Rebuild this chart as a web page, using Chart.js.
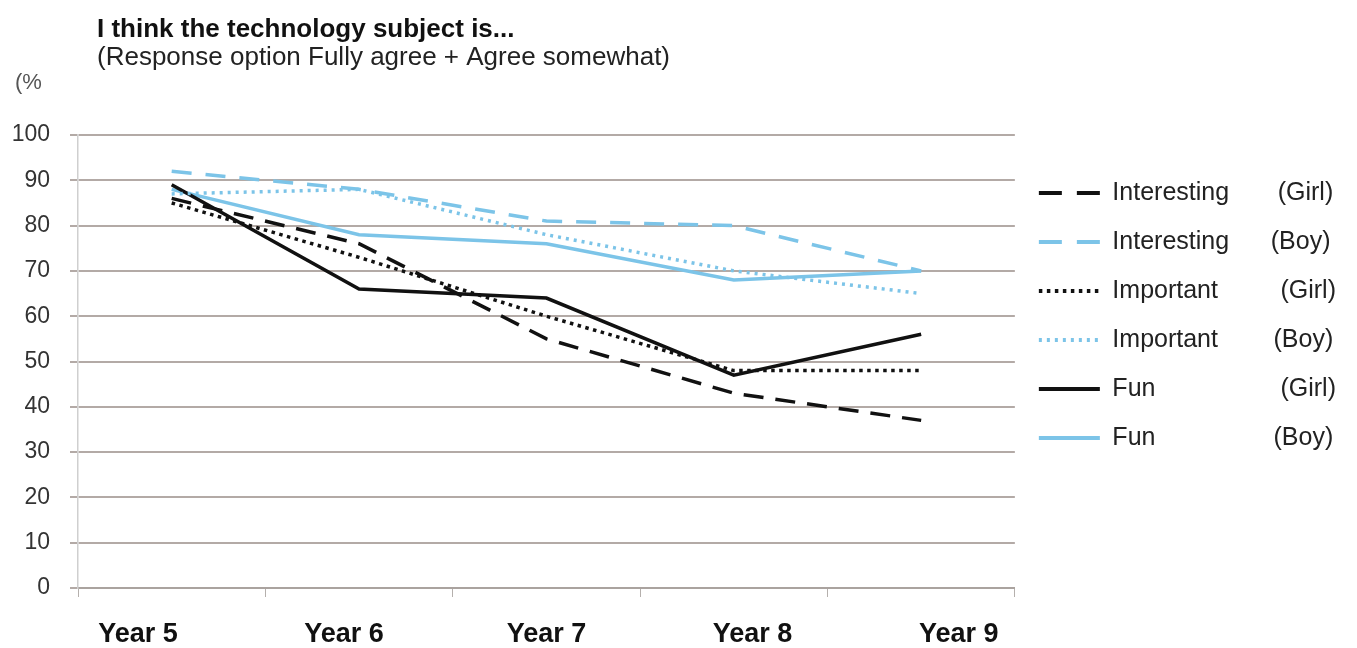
<!DOCTYPE html>
<html>
<head>
<meta charset="utf-8">
<script src="https://cdn.jsdelivr.net/npm/chart.js"></script>
<style>
  html, body { margin: 0; padding: 0; background: #fff; }
  #wrap { width: 1357px; height: 648px; }
</style>
</head>
<body>
<div id="wrap"><canvas id="techChart"></canvas></div>
<script>
// Data
const years = ["Year 5", "Year 6", "Year 7", "Year 8", "Year 9"];
const yTicks = [0, 10, 20, 30, 40, 50, 60, 70, 80, 90, 100];

const interestingGirl = [86, 76, 55, 43, 37];
const interestingBoy = [92, 88, 81, 80, 70];
const importantGirl = [85, 73, 60, 48, 48];
const importantBoy = [87, 88, 78, 70, 65];
const funGirl = [89, 66, 64, 47, 56];
const funBoy = [88, 78, 76, 68, 70];

const seriesNames = [
  "Interesting       (Girl)",
  "Interesting      (Boy)",
  "Important         (Girl)",
  "Important        (Boy)",
  "Fun                  (Girl)",
  "Fun                 (Boy)"
];

const titleText = "I think the technology subject is...";
const subtitleText = "(Response option Fully agree + Agree somewhat)";
const unitText = "(%";

const BLACK = "#111111";
const BLUE = "#7cc4e8";
const FONT = "'Liberation Sans', Arial, sans-serif";

// the year labels sit a little wider apart than the points in the original
const labelShift = [-9, -4, 0, 5, 10];

// Heading texts above the plot
const headingPlugin = {
  id: "heading",
  afterDraw(chart) {
    const c = chart.ctx;
    c.save();
    c.textBaseline = "middle";
    c.fillStyle = "#111";
    c.font = "bold 26px " + FONT;
    c.fillText(titleText, 97, 30);
    c.font = "26px " + FONT;
    c.fillStyle = "#222";
    c.fillText(subtitleText, 97, 58);
    c.font = "22px " + FONT;
    c.fillStyle = "#555";
    c.fillText(unitText, 15, 83);
    c.restore();
  }
};

function line(label, data, color, dash, legendDash) {
  return {
    label: label,
    data: data,
    borderColor: color,
    backgroundColor: color,
    borderWidth: 3.5,
    borderDash: dash,
    legendDash: legendDash,
    pointRadius: 0,
    tension: 0,
    fill: false
  };
}

const data = {
  labels: years,
  datasets: [
    line(seriesNames[0], interestingGirl, BLACK, [20, 12], [23, 15]),
    line(seriesNames[1], interestingBoy, BLUE, [20, 14], [23, 15]),
    line(seriesNames[2], importantGirl, BLACK, [3.5, 4.5], [3.5, 4.5]),
    line(seriesNames[3], importantBoy, BLUE, [3, 5], [3, 5]),
    line(seriesNames[4], funGirl, BLACK, [], []),
    line(seriesNames[5], funBoy, BLUE, [], [])
  ]
};

const options = {
  responsive: true,
  maintainAspectRatio: false,
  animation: false,
  layout: { padding: { top: 135, left: 0, right: 11, bottom: 0 } },
  plugins: {
    tooltip: { enabled: false },
    title: { display: false },
    legend: {
      position: "right",
      align: "start",
      title: { display: true, text: " ", font: { size: 10 }, padding: { top: 0, bottom: 9.5 } },
      labels: {
        usePointStyle: true,
        pointStyle: "line",
        pointStyleWidth: 61,
        padding: 24,
        color: "#222",
        font: { family: FONT, size: 25 },
        generateLabels: chart =>
          Chart.defaults.plugins.legend.labels.generateLabels(chart).map((item, i) => {
            const ds = chart.data.datasets[i];
            item.lineDash = ds.legendDash;
            item.lineWidth = 4;
            item.strokeStyle = ds.borderColor;
            return item;
          })
      }
    }
  },
  scales: {
    x: {
      offset: true,
      afterFit: scale => { scale.height = 60; },
      grid: {
        offset: true,
        drawOnChartArea: false,
        drawTicks: true,
        tickLength: 9,
        color: "#b5b0ad"
      },
      border: { display: true, color: "#aaa39f", width: 2 },
      ticks: {
        padding: 21,
        color: "#111",
        font: { family: FONT, size: 27, weight: "bold" },
        callback: function (value, i) {
          const n = labelShift[i];
          const pad = " ".repeat(Math.abs(n));
          const text = this.getLabelForValue(value);
          return n < 0 ? text + pad : pad + text;
        }
      }
    },
    y: {
      min: 0,
      max: 100,
      afterBuildTicks: axis => { axis.ticks = yTicks.map(v => ({ value: v })); },
      afterFit: scale => { scale.width = 78; },
      grid: {
        color: "#b3aaa6",
        lineWidth: 2,
        tickLength: 8,
        drawTicks: true
      },
      border: { display: true, color: "#cfcfcf", width: 1.5 },
      ticks: {
        padding: 20,
        color: "#333",
        font: { family: FONT, size: 23 }
      }
    }
  }
};

new Chart(document.getElementById("techChart").getContext("2d"), {
  type: "line",
  data: data,
  options: options,
  plugins: [headingPlugin]
});
</script>
</body>
</html>
